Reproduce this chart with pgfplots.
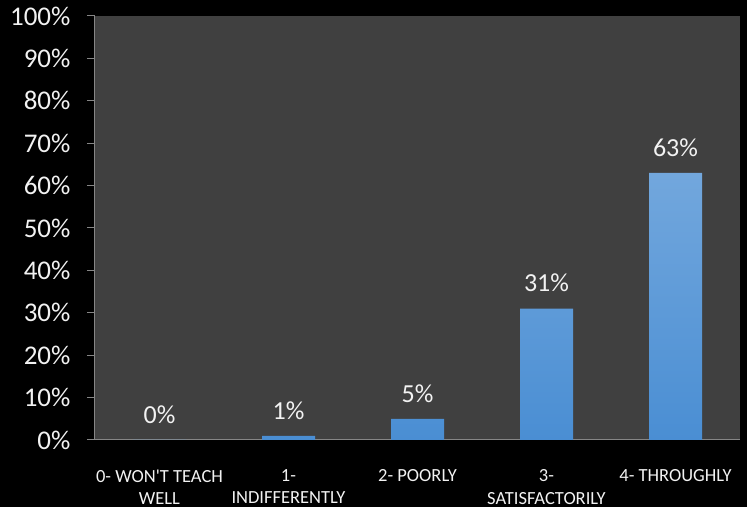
\documentclass[border=0pt]{standalone}
\usepackage{fontspec}
\setmainfont{Carlito}
\usepackage{pgfplots}
\pgfplotsset{compat=1.18}
\definecolor{plotbg}{HTML}{404040}
\definecolor{axisgray}{HTML}{868686}
\definecolor{bartop}{HTML}{72A7DD}
\definecolor{barbot}{HTML}{4A8ED3}
\definecolor{txt}{HTML}{F2F2F2}
\begin{document}
\begin{tikzpicture}[x=1pt,y=1pt]
\fill[black] (0,0) rectangle (747,507);
\begin{axis}[
  at={(95pt,67pt)}, anchor=south west,
  width=645pt, height=424pt, scale only axis,
  axis background/.style={fill=plotbg},
  xmin=-0.5, xmax=4.5, ymin=0, ymax=100,
  axis line style={draw=axisgray, line width=1pt},
  axis x line*=bottom, axis y line*=left,
  ytick={0,10,...,100},
  yticklabel={\pgfmathprintnumber{\tick}\%},
  /pgf/number format/assume math mode=true,
  yticklabel style={font=\fontsize{27}{30}\selectfont, text=txt, xshift=-13pt},
  ytick style={draw=axisgray, line width=1pt},
  tick align=outside, major tick length=8pt,
  xtick={0,1,2,3,4},
  xtick style={draw=none},
  xticklabels={{0- WON\textquotesingle T TEACH\\WELL},{1-\\INDIFFERENTLY},{2- POORLY},{3-\\SATISFACTORILY},{4- THROUGHLY}},
  xticklabel style={font=\fontsize{18.5}{22.5}\selectfont, text=txt, align=center, yshift=-18pt},
  ybar, bar width=53pt,
  nodes near coords={\pgfmathprintnumber{\pgfplotspointmeta}\%},
  nodes near coords style={font=\fontsize{26}{30}\selectfont, text=txt, yshift=13pt},
  clip=false,
]
\addplot[draw=none, top color=bartop, bottom color=barbot] coordinates {(0,0) (1,1) (2,5) (3,31) (4,63)};
\end{axis}
\end{tikzpicture}
\end{document}
